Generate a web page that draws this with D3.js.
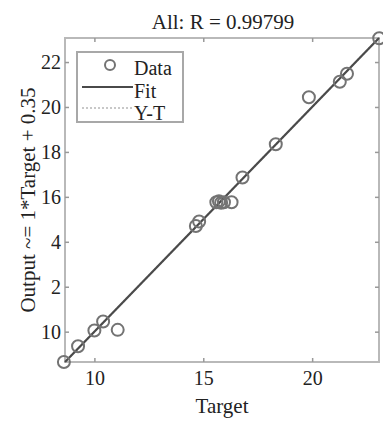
<!DOCTYPE html>
<html>
<head>
<meta charset="utf-8">
<script src="https://cdn.jsdelivr.net/npm/d3@7"></script>
<style>
  body { margin: 0; background: #fff; }
  text { font-family: "Liberation Serif", "Times New Roman", serif; fill: #222; }
</style>
</head>
<body>
<svg id="chart" width="383" height="422"></svg>
<script>
// values
const targets = [8.6, 9.25, 10.0, 10.4, 11.07, 14.66, 14.81, 15.6, 15.72, 15.82, 15.95, 16.3, 16.8, 18.33, 19.85, 21.27, 21.6, 23.08];
const outputs = [8.65, 9.35, 10.05, 10.45, 10.08, 14.7, 14.9, 15.76, 15.8, 15.74, 15.76, 15.76, 16.86, 18.34, 20.43, 21.12, 21.48, 23.06];
const xTicks = [10, 15, 20];
const yTicks = [10, 12, 14, 16, 18, 20, 22];
const yTickLabels = ["10", "2", "4", "16", "18", "20", "22"];
const fitSlope = 1, fitIntercept = 0.0;
const legendNames = ["Data", "Fit", "Y-T"];
const domain = [8.65, 23.07];

const margin = {top: 38, right: 4, bottom: 60, left: 65};
const width = 383 - margin.left - margin.right;
const height = 422 - margin.top - margin.bottom;

const svg = d3.select("#chart");
const g = svg.append("g").attr("transform", "translate(" + margin.left + "," + margin.top + ")");

const x = d3.scaleLinear().domain(domain).range([0, width]);
const y = d3.scaleLinear().domain(domain).range([height, 0]);

// frame
g.append("rect")
  .attr("width", width).attr("height", height)
  .attr("fill", "none").attr("stroke", "#b9b9b9").attr("stroke-width", 2);

// axes, ticks pointing in
const xAx = g.append("g").attr("transform", "translate(0," + height + ")")
  .call(d3.axisBottom(x).tickValues(xTicks).tickSizeInner(-4).tickSizeOuter(0).tickPadding(9));
const xTop = g.append("g").call(d3.axisTop(x).tickValues(xTicks).tickSizeInner(-4).tickSizeOuter(0).tickFormat(""));
const yAx = g.append("g")
  .call(d3.axisLeft(y).tickValues(yTicks).tickSizeInner(-4).tickSizeOuter(0).tickPadding(4)
    .tickFormat((d, i) => yTickLabels[i]));
const yRight = g.append("g").attr("transform", "translate(" + width + ",0)")
  .call(d3.axisRight(y).tickValues(yTicks).tickSizeInner(-4).tickSizeOuter(0).tickFormat(""));

[xAx, xTop, yAx, yRight].forEach(a => {
  a.select(".domain").remove();
  a.selectAll(".tick line").attr("stroke", "#999").attr("stroke-width", 1.5);
  a.selectAll("text").style("font-size", "20px").attr("fill", "#222");
});

// Y = T line (dotted) and fit line
g.append("line")
  .attr("x1", x(domain[0])).attr("y1", y(domain[0]))
  .attr("x2", x(domain[1])).attr("y2", y(domain[1]))
  .attr("stroke", "#c8c8c8").attr("stroke-width", 2).attr("stroke-dasharray", "2,2");

g.append("line")
  .attr("x1", x(domain[0])).attr("y1", y(fitSlope * domain[0] + fitIntercept))
  .attr("x2", x(domain[1])).attr("y2", y(fitSlope * domain[1] + fitIntercept))
  .attr("stroke", "#4a4a4a").attr("stroke-width", 2.2);

// data circles
g.selectAll("circle.pt")
  .data(targets.map((t, i) => [t, outputs[i]]))
  .enter().append("circle")
  .attr("class", "pt")
  .attr("cx", d => x(d[0])).attr("cy", d => y(d[1]))
  .attr("r", 6)
  .attr("fill", "none").attr("stroke", "#737373").attr("stroke-width", 2);

// legend
const lg = svg.append("g").attr("transform", "translate(77,52)");
lg.append("rect").attr("width", 106).attr("height", 70)
  .attr("fill", "#fff").attr("stroke", "#a8a8a8").attr("stroke-width", 2);
lg.append("circle").attr("cx", 33).attr("cy", 13).attr("r", 5)
  .attr("fill", "none").attr("stroke", "#737373").attr("stroke-width", 2);
lg.append("line").attr("x1", 5).attr("x2", 56).attr("y1", 35).attr("y2", 35)
  .attr("stroke", "#4a4a4a").attr("stroke-width", 2.2);
lg.append("line").attr("x1", 5).attr("x2", 56).attr("y1", 56).attr("y2", 56)
  .attr("stroke", "#c8c8c8").attr("stroke-width", 2).attr("stroke-dasharray", "2,2");
lg.selectAll("text.lab")
  .data(legendNames)
  .enter().append("text")
  .attr("x", 57).attr("y", (d, i) => 23 + i * 22.5)
  .style("font-size", "20px")
  .text(d => d);

// title and axis labels
svg.append("text").attr("x", 223).attr("y", 29).attr("text-anchor", "middle")
  .style("font-size", "21px").text("All: R = 0.99799");
svg.append("text").attr("x", 222).attr("y", 413).attr("text-anchor", "middle")
  .style("font-size", "21px").text("Target");
svg.append("text")
  .attr("transform", "translate(35," + (margin.top + height / 2) + ") rotate(-90)")
  .attr("text-anchor", "middle")
  .style("font-size", "21px").text("Output ~= 1*Target + 0.35");
</script>
</body>
</html>
